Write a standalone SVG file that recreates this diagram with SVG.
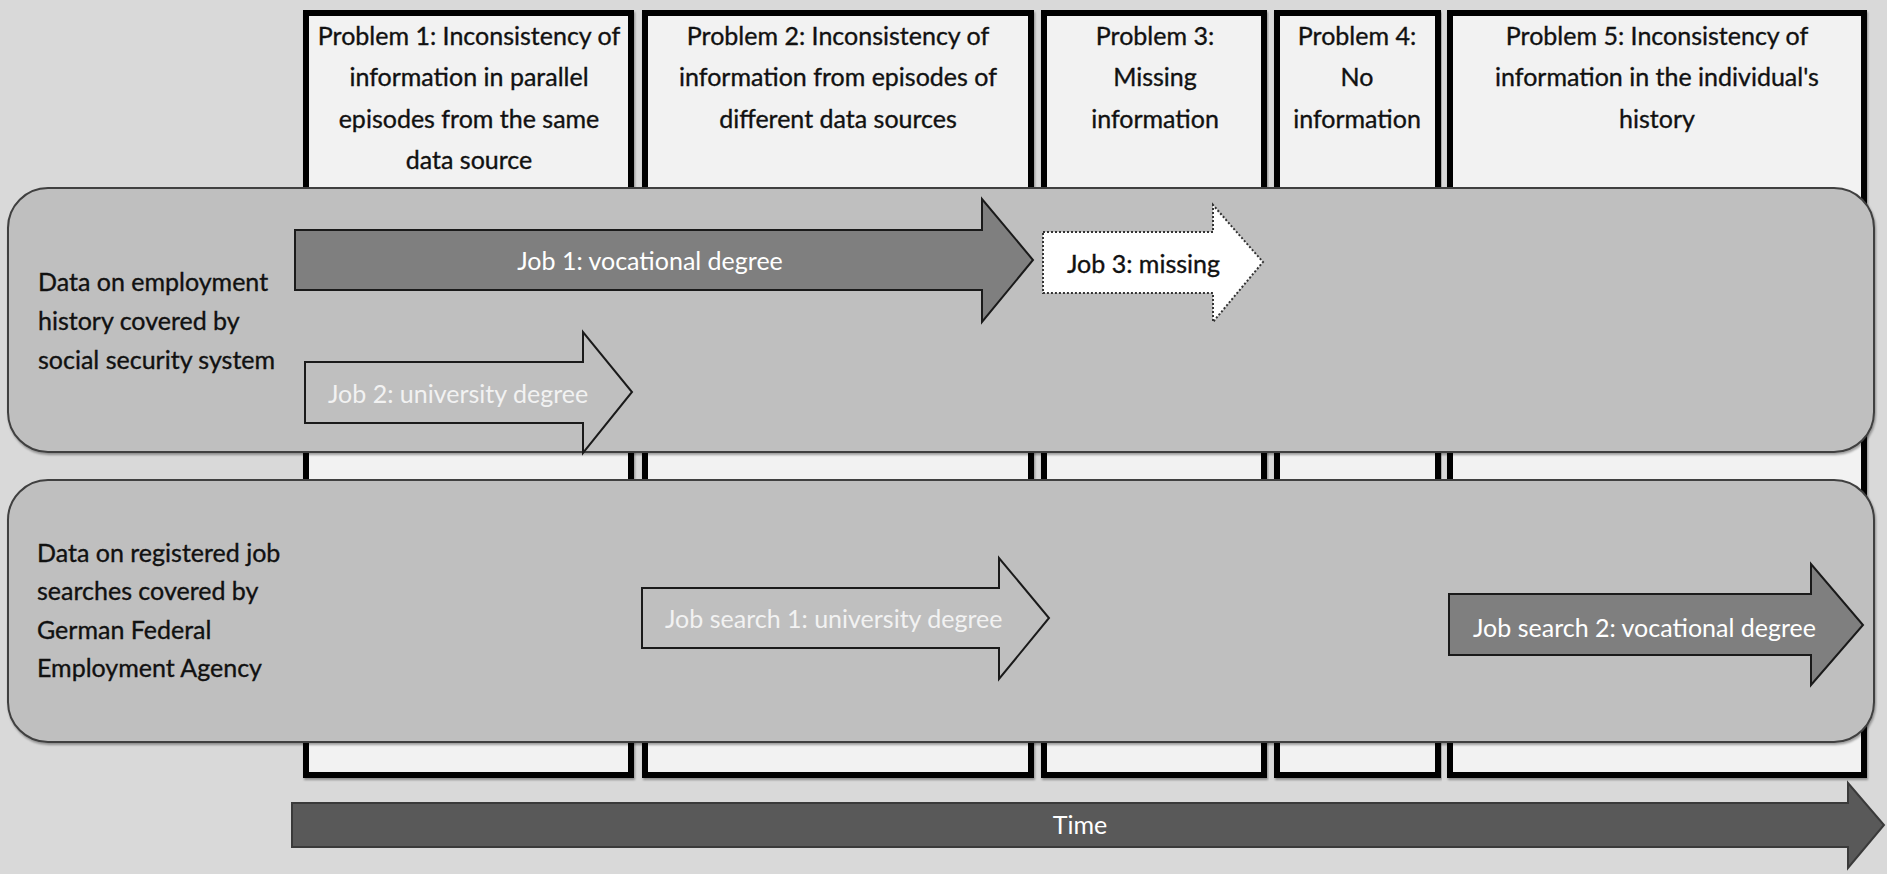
<svg xmlns="http://www.w3.org/2000/svg" width="1887" height="874" viewBox="0 0 1887 874">
  <defs>
    <style>
      text { font-family: Lato, "Open Sans", "Liberation Sans", sans-serif; font-size: 25px; }
      .hdr { fill: #111111; stroke: #111111; stroke-width: 0.35; text-anchor: middle; }
      .lbl { fill: #111111; stroke: #111111; stroke-width: 0.35; }
      .col { fill: #f2f2f2; stroke: #000000; stroke-width: 6; }
      .lane { fill: #bfbfbf; stroke: #3f3f3f; stroke-width: 2; }
      .dark { fill: #7f7f7f; stroke: #1a1a1a; stroke-width: 2; stroke-linejoin: miter; }
      .light { fill: #bfbfbf; stroke: #1a1a1a; stroke-width: 2; stroke-linejoin: miter; }
      .miss { fill: #ffffff; stroke: #333333; stroke-width: 2; stroke-dasharray: 2 2; }
      .time { fill: #595959; stroke: #3a3a3a; stroke-width: 2; }
      .wt { fill: #ffffff; }
      .wt2 { fill: #f2f2f2; }
    </style>
    <filter id="sh" x="-2%" y="-5%" width="104%" height="112%">
      <feDropShadow dx="1" dy="2" stdDeviation="1.2" flood-color="#000000" flood-opacity="0.35"/>
    </filter>
  </defs>

  <rect x="0" y="0" width="1887" height="874" fill="#d9d9d9"/>

  <g id="problem1">
    <rect class="col" x="306" y="13" width="325" height="762" filter="url(#sh)"/>
    <text class="hdr" x="469" y="45">Problem 1: Inconsistency of</text>
    <text class="hdr" x="469" y="86">information in parallel</text>
    <text class="hdr" x="469" y="128">episodes from the same</text>
    <text class="hdr" x="469" y="169">data source</text>
  </g>
  <g id="problem2">
    <rect class="col" x="645" y="13" width="386" height="762" filter="url(#sh)"/>
    <text class="hdr" x="838" y="45">Problem 2: Inconsistency of</text>
    <text class="hdr" x="838" y="86">information from episodes of</text>
    <text class="hdr" x="838" y="128">different data sources</text>
  </g>
  <g id="problem3">
    <rect class="col" x="1044" y="13" width="220" height="762" filter="url(#sh)"/>
    <text class="hdr" x="1155" y="45">Problem 3:</text>
    <text class="hdr" x="1155" y="86">Missing</text>
    <text class="hdr" x="1155" y="128">information</text>
  </g>
  <g id="problem4">
    <rect class="col" x="1277" y="13" width="161" height="762" filter="url(#sh)"/>
    <text class="hdr" x="1357" y="45">Problem 4:</text>
    <text class="hdr" x="1357" y="86">No</text>
    <text class="hdr" x="1357" y="128">information</text>
  </g>
  <g id="problem5">
    <rect class="col" x="1450" y="13" width="414" height="762" filter="url(#sh)"/>
    <text class="hdr" x="1657" y="45">Problem 5: Inconsistency of</text>
    <text class="hdr" x="1657" y="86">information in the individual's</text>
    <text class="hdr" x="1657" y="128">history</text>
  </g>

  <g id="lane-employment">
    <rect class="lane" x="8" y="188" width="1866" height="264" rx="40" ry="40" filter="url(#sh)"/>
    <text class="lbl" x="38" y="291">Data on employment</text>
    <text class="lbl" x="38" y="330">history covered by</text>
    <text class="lbl" x="38" y="369">social security system</text>
  </g>
  <g id="lane-jobsearch">
    <rect class="lane" x="8" y="480" width="1866" height="262" rx="40" ry="40" filter="url(#sh)"/>
    <text class="lbl" x="37" y="562">Data on registered job</text>
    <text class="lbl" x="37" y="600">searches covered by</text>
    <text class="lbl" x="37" y="639">German Federal</text>
    <text class="lbl" x="37" y="677">Employment Agency</text>
  </g>

  <g id="job1">
    <polygon class="dark" points="295,230 982,230 982,199 1033,260 982,322 982,290 295,290"/>
    <text class="wt" x="650" y="270" text-anchor="middle">Job 1: vocational degree</text>
  </g>
  <g id="job2">
    <polygon class="light" points="305,362 583,362 583,332 632,392 583,453 583,423 305,423"/>
    <text class="wt2" x="328" y="403">Job 2: university degree</text>
  </g>
  <g id="job3">
    <polygon class="miss" points="1043,232 1213,232 1213,205 1263,262 1213,322 1213,293 1043,293"/>
    <text class="lbl" x="1067" y="273">Job 3: missing</text>
  </g>
  <g id="jobsearch1">
    <polygon class="light" points="642,588 999,588 999,558 1049,618 999,679 999,648 642,648"/>
    <text class="wt2" x="665" y="628">Job search 1: university degree</text>
  </g>
  <g id="jobsearch2">
    <polygon class="dark" points="1449,594 1811,594 1811,564 1863,625 1811,685 1811,655 1449,655"/>
    <text class="wt" x="1473" y="637">Job search 2: vocational degree</text>
  </g>

  <g id="time">
    <polygon class="time" points="292,803 1848,803 1848,783 1884,825 1848,868 1848,847 292,847"/>
    <text class="wt" x="1080" y="834" text-anchor="middle">Time</text>
  </g>

  <g id="connectors"></g>
</svg>
